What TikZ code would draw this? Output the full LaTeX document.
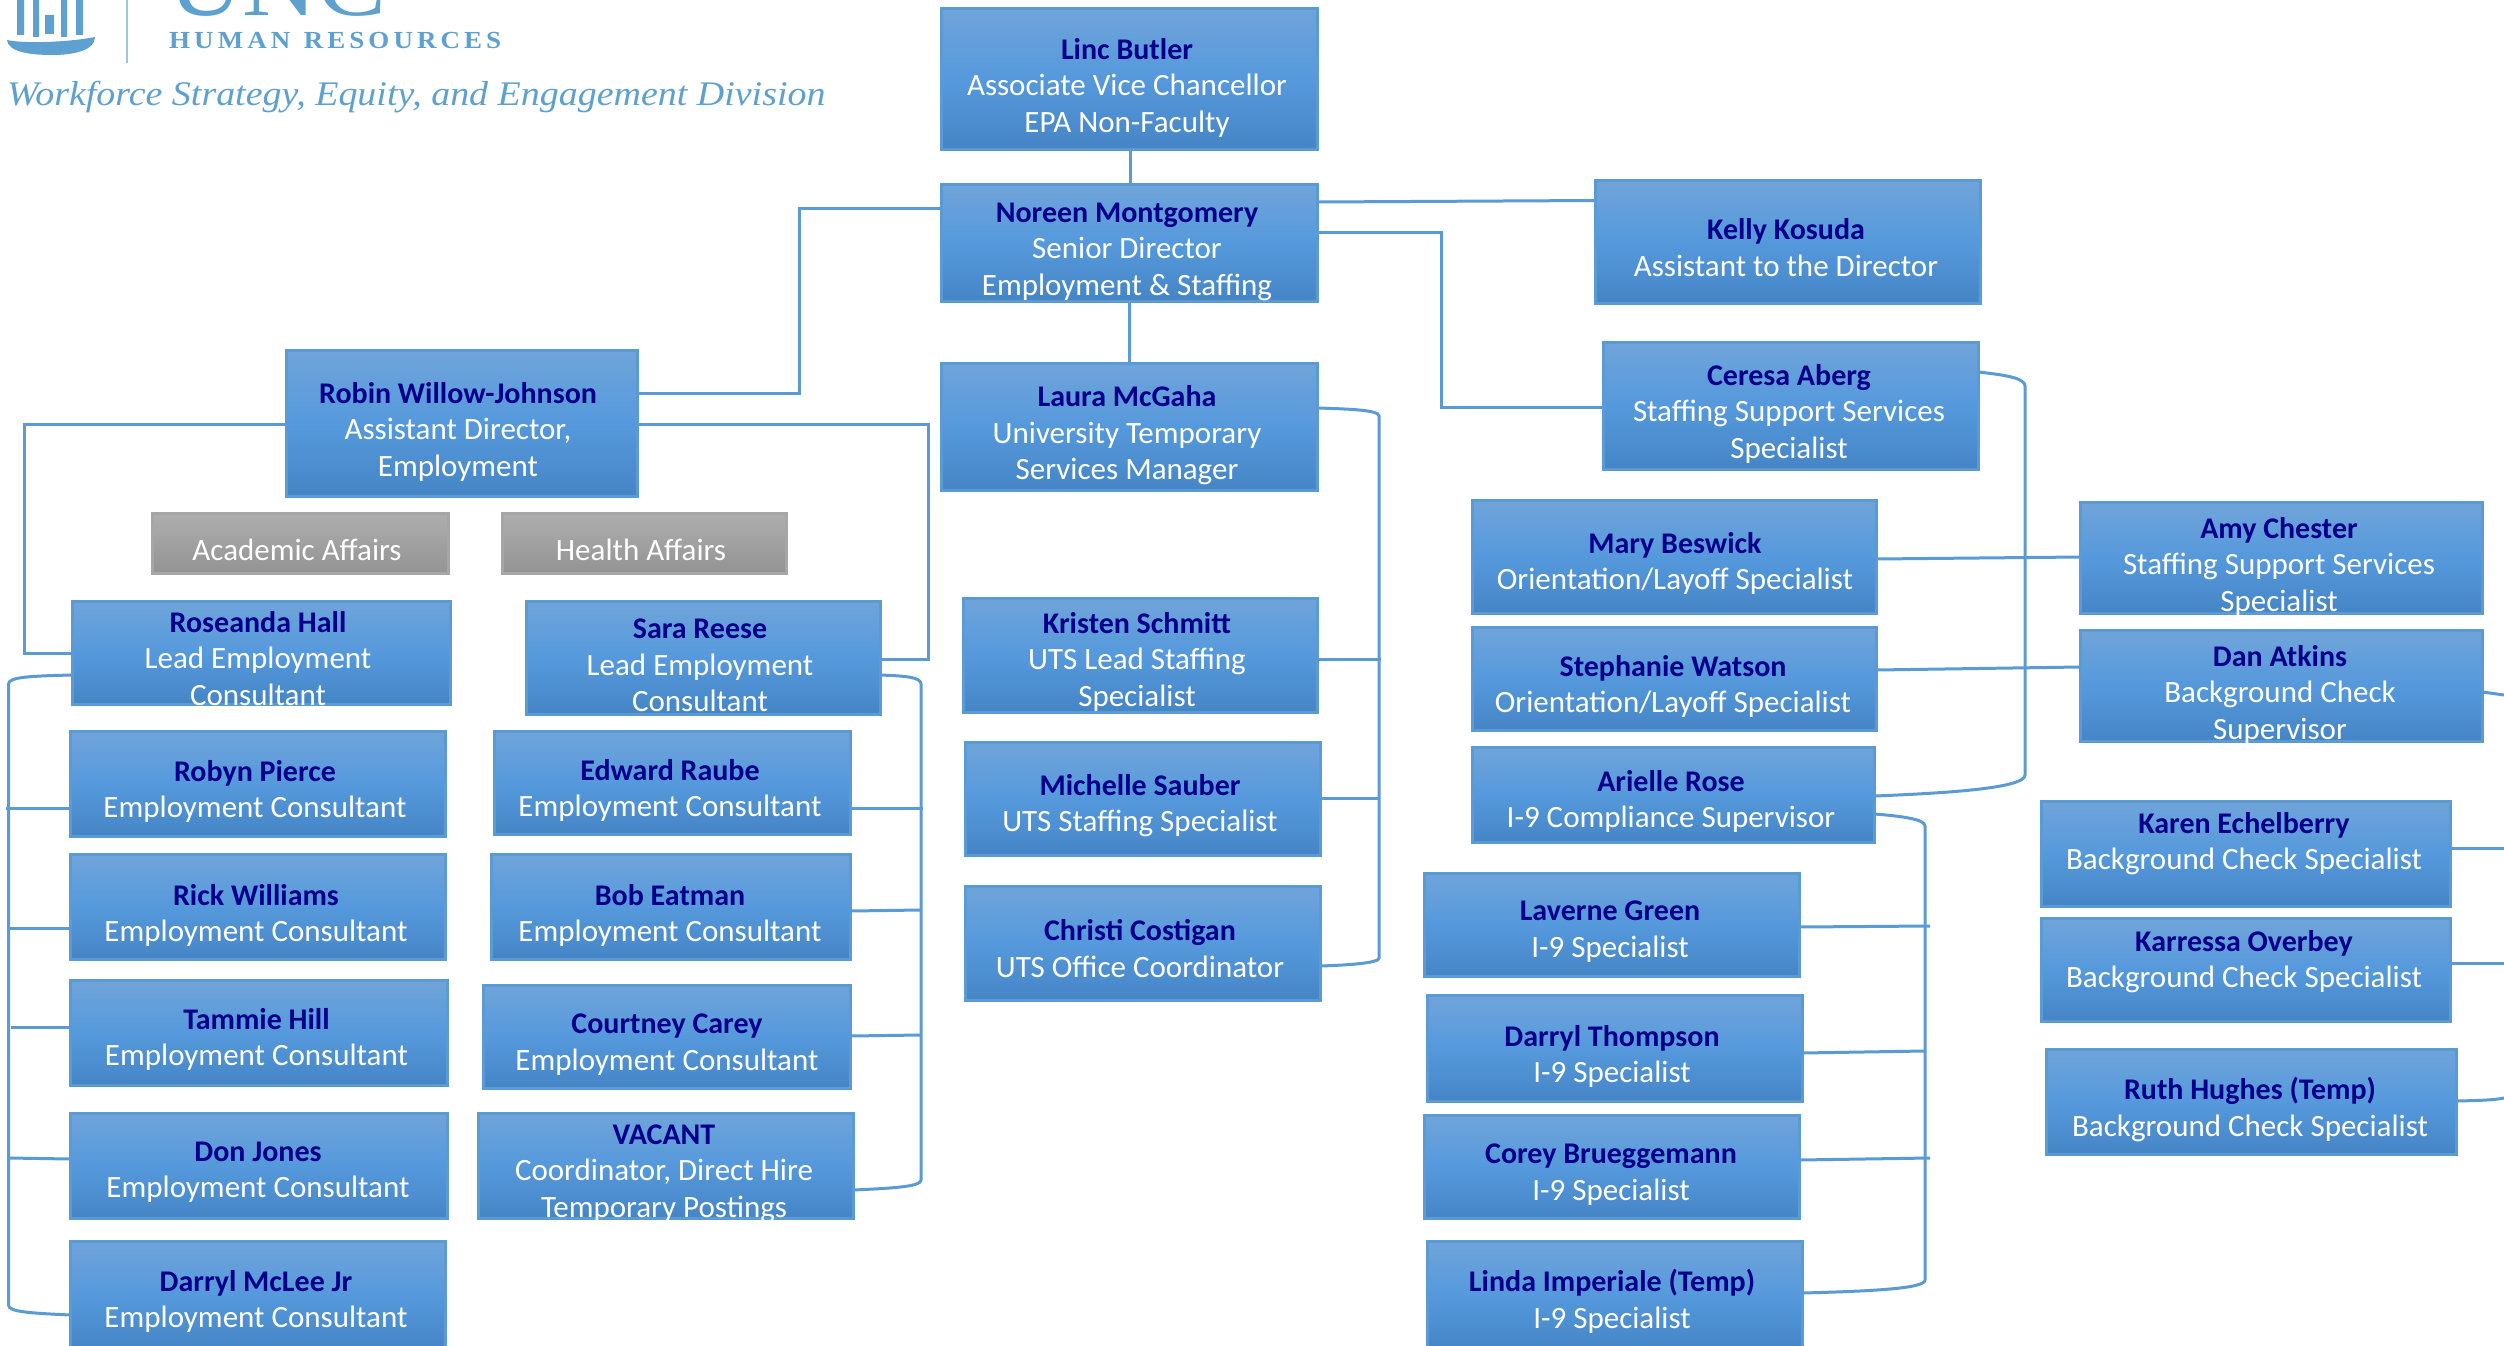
\documentclass[tikz,border=0pt]{standalone}
\usepackage{fontspec}
\setmainfont{Carlito}
\newfontfamily\logofont[FakeStretch=1.1]{Liberation Serif}
\usetikzlibrary{calc}
\definecolor{boxline}{HTML}{5B9BD5}
\definecolor{boxtop}{HTML}{70A4DA}
\definecolor{boxmid}{HTML}{5599DC}
\definecolor{boxbot}{HTML}{4585C6}
\definecolor{nametxt}{HTML}{00008B}
\definecolor{greytop}{HTML}{AEAEAE}
\definecolor{greybot}{HTML}{939393}
\definecolor{logoblue}{HTML}{5EA0CF}
\tikzset{
  staffbox/.style={rectangle,draw=boxline,line width=3pt,inner sep=0pt,outer sep=0pt,
    top color=boxtop,bottom color=boxbot,middle color=boxmid},
  greybox/.style={rectangle,draw=gray!70,line width=3pt,inner sep=0pt,outer sep=0pt,
    top color=greytop,bottom color=greybot},
  stafftext/.style={inner sep=0pt,outer sep=0pt,align=center,text=white,yshift=-1.5pt,
    font=\fontsize{31}{36.5}\selectfont},
  link/.style={draw=boxline,line width=3pt,line join=miter},
}
\newcommand\nm[1]{\textcolor{nametxt}{\fontsize{30}{36.5}\selectfont\bfseries #1}}
\newcommand\staff[9]{%
  \pgfmathsetmacro\bw{#4-#2-3}\pgfmathsetmacro\bh{#5-#3-3}%
  \node[staffbox,minimum width=\bw pt,minimum height=\bh pt] (#1) at ({(#2+#4)/2},{(#3+#5)/2}) {};
  \node[stafftext] (#1txt) at (#6,#7) {#8\\#9};
}
\begin{document}
\begin{tikzpicture}[x=1pt,y=-1pt]
\useasboundingbox (0,0) rectangle (2504,1346);
\fill[white] (0,0) rectangle (2504,1346);
% logo
\node[inner sep=0,text=logoblue,anchor=base west] (unc) at (168,16) {\logofont\fontsize{94}{94}\selectfont UNC};
\node[inner sep=0,text=logoblue,anchor=base west] (hr) at (169,49) {\logofont\bfseries\fontsize{24.5}{25}\selectfont H\,U\,M\,A\,N\ \ R\,E\,S\,O\,U\,R\,C\,E\,S};
\node[inner sep=0,text=logoblue,anchor=base west] (wf) at (7,106) {\logofont\itshape\fontsize{34.5}{34.5}\selectfont Workforce Strategy, Equity, and Engagement Division};
\draw[logoblue!60,line width=1.5pt] (127,0) -- (127,63);
\fill[logoblue] (7,40) .. controls (25,44) and (70,42) .. (95,37) .. controls (95,50) and (75,55) .. (52,55) .. controls (30,55) and (8,52) .. (7,40) -- cycle;
\fill[logoblue] (17,0) rectangle (24,35) (33,0) rectangle (39,37) (45,15) rectangle (54,34) (61,0) rectangle (67,37) (76,0) rectangle (83,35);
% people
\staff{linc}{940}{7}{1319}{151}{1127}{86}{\nm{Linc Butler}}{Associate Vice Chancellor\\EPA Non-Faculty}
\staff{noreen}{940}{183}{1319}{303}{1127}{250}{\nm{Noreen Montgomery}}{Senior Director\\Employment \& Staffing}
\staff{laura}{940}{362}{1319}{492}{1127}{434}{\nm{Laura McGaha}}{University Temporary\\Services Manager}
\staff{robin}{285}{349}{639}{498}{458}{430}{\nm{Robin Willow-Johnson}}{Assistant Director,\\Employment}
\staff{kristen}{962}{597}{1319}{714}{1137}{660}{\nm{Kristen Schmitt}}{UTS Lead Staffing\\Specialist}
\staff{michelle}{964}{741}{1322}{857}{1140}{804}{\nm{Michelle Sauber}}{UTS Staffing Specialist}
\staff{christi}{964}{885}{1322}{1002}{1140}{947}{\nm{Christi Costigan}}{UTS Office Coordinator}
\staff{roseanda}{71}{600}{452}{706}{258}{657}{\nm{Roseanda Hall}}{Lead Employment\\Consultant}
\staff{sara}{525}{600}{882}{716}{700}{664}{\nm{Sara Reese}}{Lead Employment\\Consultant}
\staff{robyn}{68.5}{730}{447}{838}{255}{790}{\nm{Robyn Pierce}}{Employment Consultant}
\staff{rick}{68.5}{853}{447}{961}{256}{914}{\nm{Rick Williams}}{Employment Consultant}
\staff{tammie}{68.5}{979}{449}{1087}{256.5}{1038}{\nm{Tammie Hill}}{Employment Consultant}
\staff{don}{68.5}{1111.5}{449}{1220}{258}{1171}{\nm{Don Jones}}{Employment Consultant}
\staff{darrylm}{68.5}{1239.5}{447}{1351}{256}{1300}{\nm{Darryl McLee Jr}}{Employment Consultant}
\staff{edward}{493}{730}{852}{836}{670}{789}{\nm{Edward Raube}}{Employment Consultant}
\staff{bob}{490}{853}{852}{961}{670}{914}{\nm{Bob Eatman}}{Employment Consultant}
\staff{courtney}{482}{983.5}{852}{1089.5}{667}{1043}{\nm{Courtney Carey}}{Employment Consultant}
\staff{vacant}{477}{1111.5}{854.5}{1220}{664}{1172}{\nm{VACANT}}{Coordinator, Direct Hire\\Temporary Postings}
\staff{kelly}{1594}{178.5}{1982}{305}{1786}{246}{\nm{Kelly Kosuda}}{Assistant to the Director}
\staff{ceresa}{1602}{341}{1980}{470.5}{1789}{412}{\nm{Ceresa Aberg}}{Staffing Support Services\\Specialist}
\staff{mary}{1471}{498.7}{1878}{615}{1675}{562}{\nm{Mary Beswick}}{Orientation/Layoff Specialist}
\staff{stephanie}{1471}{626}{1878}{732}{1673}{685}{\nm{Stephanie Watson}}{Orientation/Layoff Specialist}
\staff{arielle}{1471}{746.4}{1876}{844}{1671}{800}{\nm{Arielle Rose}}{I-9 Compliance Supervisor}
\staff{amy}{2079}{501}{2484}{615}{2279}{565}{\nm{Amy Chester}}{Staffing Support Services\\Specialist}
\staff{dan}{2079}{629}{2484}{743}{2280}{693}{\nm{Dan Atkins}}{Background Check\\Supervisor}
\staff{karen}{2039.5}{800}{2452}{908}{2244}{842}{\nm{Karen Echelberry}}{Background Check Specialist}
\staff{karressa}{2039.5}{917}{2452}{1022.6}{2244}{960}{\nm{Karressa Overbey}}{Background Check Specialist}
\staff{ruth}{2045}{1048}{2458}{1156}{2250}{1108}{\nm{Ruth Hughes (Temp)}}{Background Check Specialist}
\staff{laverne}{1423}{871.7}{1801}{977.5}{1610}{930}{\nm{Laverne Green}}{I-9 Specialist}
\staff{darrylt}{1426}{994.4}{1804}{1103}{1612}{1055}{\nm{Darryl Thompson}}{I-9 Specialist}
\staff{corey}{1423}{1114}{1801}{1220}{1611}{1173}{\nm{Corey Brueggemann}}{I-9 Specialist}
\staff{linda}{1426}{1240}{1804}{1351}{1612}{1300}{\nm{Linda Imperiale (Temp)}}{I-9 Specialist}
% division tags
\node[greybox,minimum width=295.5pt,minimum height=60pt] (academic) at (300.25,543.5) {};
\node[greybox,minimum width=284.5pt,minimum height=60pt] (health) at (644.25,543.5) {};
\node[stafftext] (academictxt) at (297,548) {Academic Affairs};
\node[stafftext] (healthtxt) at (641,548) {Health Affairs};
% free ends on the right
\coordinate (rbrA) at (2504,695);
\coordinate (rbrB) at (2504,848);
\coordinate (rbrC) at (2504,963.4);
\coordinate (rbrD) at (2504,1098);
% connectors
\draw[link] (linc.south -| 1130,0) -- (noreen.north -| 1130,0);
\draw[link] (noreen.south -| 1129,0) -- (laura.north -| 1129,0);
\draw[link] (noreen.west |- 0,208) -- (799,208) -- (799,393) -- (robin.east |- 0,393);
\draw[link] (noreen.east |- 0,202) -- (kelly.west |- 0,200.5);
\draw[link] (noreen.east |- 0,232) -- (1441,232) -- (1441,407) -- (ceresa.west |- 0,407);
\draw[link] (robin.west |- 0,424) -- (24,424) -- (24,653) -- (roseanda.west |- 0,653);
\draw[link] (robin.east |- 0,424) -- (928,424) -- (928,659) -- (sara.east |- 0,659);
% Roseanda bracket
\draw[link] (roseanda.west |- 0,675) .. controls (30,676) and (8.5,677) .. (8.5,684) -- (8.5,1305) .. controls (8.5,1312) and (30,1313) .. (darrylm.west |- 0,1315);
\draw[link] (robyn.west |- 0,808) -- (6,808);
\draw[link] (rick.west |- 0,928) -- (8.5,928);
\draw[link] (tammie.west |- 0,1027) -- (11,1027);
\draw[link] (don.west |- 0,1159) -- (8.5,1158);
% Sara bracket
\draw[link] (sara.east |- 0,675) .. controls (905,676) and (921,677) .. (921,684) -- (921,1180) .. controls (921,1186) and (900,1188) .. (vacant.east |- 0,1190);
\draw[link] (edward.east |- 0,808) -- (923,808);
\draw[link] (bob.east |- 0,911) -- (921,910);
\draw[link] (courtney.east |- 0,1036) -- (921,1035);
% Laura bracket
\draw[link] (laura.east |- 0,408) .. controls (1350,409) and (1379,410) .. (1379,416) -- (1379,958) .. controls (1379,963) and (1350,965) .. (christi.east |- 0,966);
\draw[link] (kristen.east |- 0,659) -- (1381,659);
\draw[link] (michelle.east |- 0,798) -- (1379,798);
% Ceresa bracket
\draw[link] (ceresa.east |- 0,372) .. controls (2005,375) and (2025,378) .. (2025,386) -- (2025,775) .. controls (2025,788) and (1950,793) .. (arielle.east |- 0,796);
\draw[link] (mary.east |- 0,559) -- (amy.west |- 0,557);
\draw[link] (stephanie.east |- 0,670) -- (dan.west |- 0,667);
% Arielle bracket
\draw[link] (arielle.east |- 0,814) .. controls (1900,816) and (1925,819) .. (1925,826) -- (1925,1280) .. controls (1925,1288) and (1880,1291) .. (linda.east |- 0,1293);
\draw[link] (laverne.east |- 0,927) -- (1930,926);
\draw[link] (darrylt.east |- 0,1053) -- (1925,1051);
\draw[link] (corey.east |- 0,1160) -- (1930,1158);
% Dan's reports run off the page
\draw[link] (dan.east |- 0,692) -- (rbrA);
\draw[link] (karen.east |- 0,848) -- (rbrB);
\draw[link] (karressa.east |- 0,963.4) -- (rbrC);
\draw[link] (ruth.east |- 0,1101) .. controls (2480,1100.5) and (2495,1100) .. (rbrD);
\end{tikzpicture}
\end{document}
